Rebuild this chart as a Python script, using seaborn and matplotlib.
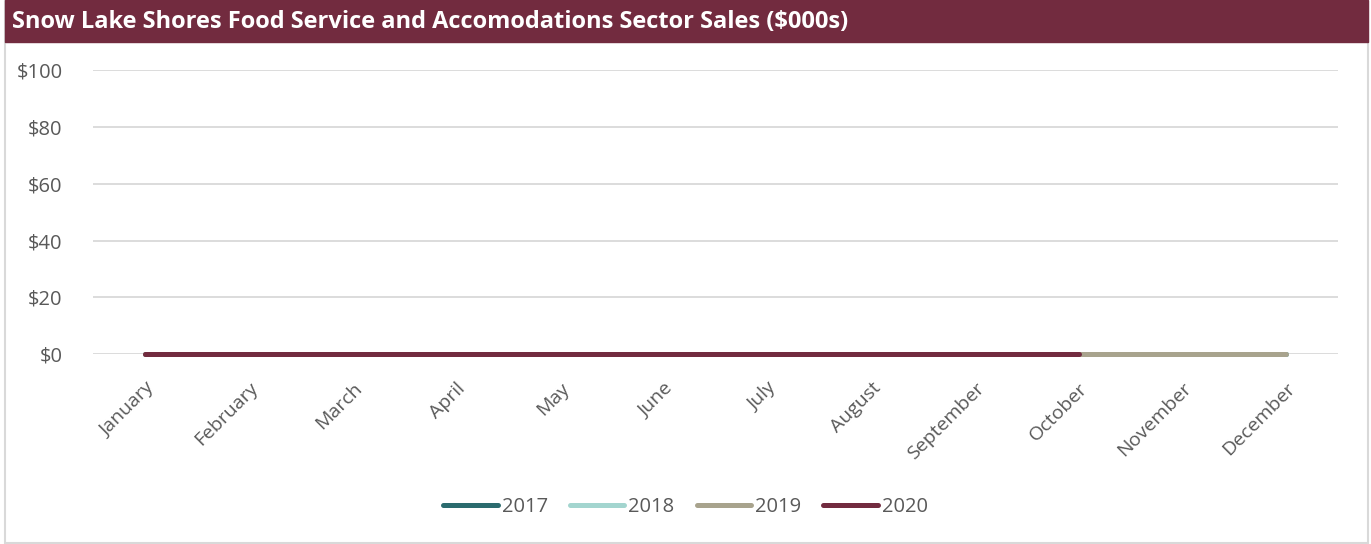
import numpy as np
import pandas as pd
import matplotlib
matplotlib.use("Agg")
import matplotlib.pyplot as plt
import seaborn as sns
from matplotlib.patches import Rectangle
from matplotlib.lines import Line2D

months = ["January", "February", "March", "April", "May", "June", "July",
          "August", "September", "October", "November", "December"]
years = ["2017", "2018", "2019", "2020"]
sales_2017 = [0, 0, 0, 0, 0, 0, 0, 0, 0, 0, 0, 0]
sales_2018 = [0, 0, 0, 0, 0, 0, 0, 0, 0, 0, 0, 0]
sales_2019 = [0, 0, 0, 0, 0, 0, 0, 0, 0, 0, 0, 0]
sales_2020 = [0, 0, 0, 0, 0, 0, 0, 0, 0, 0, np.nan, np.nan]
colors = ["#2B6B6E", "#A3D5CF", "#A8A38D", "#722B3F"]

df = pd.DataFrame({
    "month": months * 4,
    "pos": list(range(12)) * 4,
    "year": np.repeat(years, 12),
    "sales": sales_2017 + sales_2018 + sales_2019 + sales_2020,
}).dropna()

sns.set_theme(style="white")
plt.rcParams["font.family"] = ["Open Sans", "DejaVu Sans"]
txt = "#595959"

fig = plt.figure(figsize=(13.71, 5.44), dpi=100)
ax = fig.add_axes([0.068, 0.349, 0.908, 0.522])

for yr, c in zip(years, colors):
    d = df[df["year"] == yr]
    sns.lineplot(data=d, x="pos", y="sales", color=c, lw=3.6, ax=ax,
                 solid_capstyle="round", legend=False)
for ln in ax.lines:
    ln.set_clip_on(False)
    ln.set_zorder(3)

ax.set_xlim(-0.5, 11.5)
ax.set_ylim(0, 100)
ax.set_yticks(range(0, 101, 20))
ax.set_yticklabels([f"${v}" for v in range(0, 101, 20)], color=txt, fontsize=14.5)
ax.set_xticks(range(12))
ax.set_xticklabels(months, rotation=45, ha="right", rotation_mode="anchor",
                   color=txt, fontsize=14)
ax.tick_params(axis="x", pad=12)
ax.tick_params(axis="y", pad=16)
ax.set_xlabel("")
ax.set_ylabel("")
ax.grid(axis="y", color="#D9D9D9", lw=1.3)
ax.set_axisbelow(True)
for s in ax.spines.values():
    s.set_visible(False)

# outer frame and title bar
fig.patches.append(Rectangle((5 / 1371, 0.002), 1363 / 1371, 0.996, transform=fig.transFigure,
                             fill=False, ec="#D9D9D9", lw=1.5))
fig.patches.append(Rectangle((5 / 1371, 1 - 42 / 544), 1363 / 1371, 42 / 544,
                             transform=fig.transFigure, color="#722B3F"))
fig.text(12 / 1371, 1 - 22 / 544, "Snow Lake Shores Food Service and Accomodations Sector Sales ($000s)",
         color="white", fontsize=17, fontweight="bold", va="center", ha="left")

handles = [Line2D([], [], color=c, lw=3.6, solid_capstyle="round") for c in colors]
fig.legend(handles, years, loc="center", bbox_to_anchor=(0.5, 1 - 507 / 544), ncol=4,
           frameon=False, handlelength=2.7, handletextpad=0.2, columnspacing=1.1,
           prop={"size": 14.5}, labelcolor=txt)

fig.savefig("out.png", dpi=100)
